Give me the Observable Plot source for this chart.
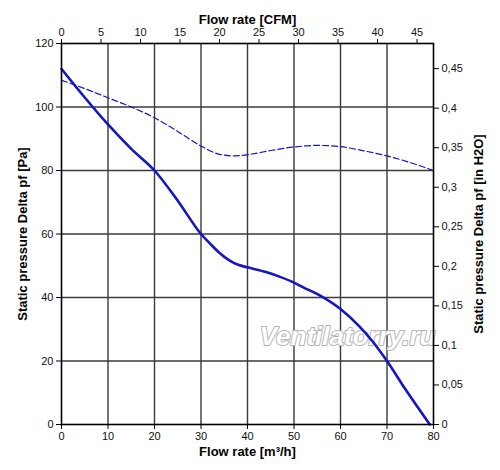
<!DOCTYPE html>
<html>
<head>
<meta charset="utf-8">
<script src="https://cdn.jsdelivr.net/npm/d3@7"></script>
<script src="https://cdn.jsdelivr.net/npm/@observablehq/plot@0.6"></script>
<style>
  html, body { margin: 0; padding: 0; background: #fff; }
  #chart { width: 500px; height: 470px; }
</style>
</head>
<body>
<div id="chart"></div>
<script>
// ---- data ----
const flowSolid = [0, 5, 10, 15, 20, 25, 30, 32, 34, 36, 38, 40, 44, 47, 50, 52, 56, 60, 64, 67, 70, 74, 79.2];
const pressureSolid = [112, 103, 94.5, 86.8, 80, 70.5, 60, 56.9, 54, 51.8, 50.3, 49.5, 48, 46.5, 44.7, 43.2, 40.3, 36.4, 31, 26, 20, 11, 0];

const flowDashed = [0, 5, 10, 15, 20, 25, 30, 34, 37, 41, 45, 50, 55, 60, 65, 70, 75, 80];
const pressureDashed = [108.4, 105.8, 102.9, 100, 96.6, 92.3, 87.7, 85.1, 84.6, 85.2, 86.3, 87.4, 87.9, 87.5, 86.2, 84.6, 82.5, 80];

const xTicks = [0, 10, 20, 30, 40, 50, 60, 70, 80];
const yTicks = [0, 20, 40, 60, 80, 100, 120];
const cfmTicks = [0, 5, 10, 15, 20, 25, 30, 35, 40, 45];
const inH2OTicks = [0, 0.05, 0.1, 0.15, 0.2, 0.25, 0.3, 0.35, 0.4, 0.45];

const M3H_PER_CFM = 1.699;
const PA_PER_INH2O = 249.09;

const solid = flowSolid.map((x, i) => ({x, y: pressureSolid[i]}));
const dashed = flowDashed.map((x, i) => ({x, y: pressureDashed[i]}));

const blue = "#1414c8";
const gridColor = "#3a3a3a";

const fmtComma = v => String(+v.toFixed(2)).replace(".", ",");

const chart = Plot.plot({
  width: 500,
  height: 470,
  marginLeft: 61,
  marginRight: 67,
  marginTop: 43,
  marginBottom: 46,
  style: {fontFamily: "'Liberation Sans', Arial, sans-serif", fontSize: "11px", color: "#111", background: "#fff"},
  x: {domain: [0, 80], axis: null},
  y: {domain: [0, 120], axis: null},
  marks: [
    Plot.ruleX(xTicks.slice(1, -1), {stroke: gridColor, strokeWidth: 1.4}),
    Plot.ruleY(yTicks.slice(1, -1), {stroke: gridColor, strokeWidth: 1.4}),
    Plot.text(["Ventilatorry.ru"], {
      frameAnchor: "bottom-right", textAnchor: "end", lineAnchor: "bottom",
      dx: 2, dy: -80, fontSize: 26, fontWeight: "bold", fontStyle: "italic",
      fontFamily: "'Liberation Sans', Arial, sans-serif",
      fill: "white", stroke: "#b4b4b4", strokeWidth: 2
    }),
    Plot.line(dashed, {x: "x", y: "y", stroke: blue, strokeWidth: 1.2, strokeDasharray: "6,3", curve: "monotone-x"}),
    Plot.line(solid, {x: "x", y: "y", stroke: blue, strokeWidth: 2.6, curve: "monotone-x"}),
    Plot.frame({stroke: "#000", strokeWidth: 1.6}),
    Plot.axisX({anchor: "bottom", ticks: xTicks, tickSize: 5, tickPadding: 3, label: null, stroke: "#000"}),
    Plot.axisY({anchor: "left", ticks: yTicks, tickSize: 5, tickPadding: 3, label: null, stroke: "#000"}),
    Plot.axisX({
      anchor: "top", ticks: cfmTicks.map(c => c * M3H_PER_CFM), tickSize: 5, tickPadding: 3,
      tickFormat: d => String(Math.round(d / M3H_PER_CFM)), label: null, stroke: "#000"
    }),
    Plot.axisY({
      anchor: "right", ticks: inH2OTicks.map(v => v * PA_PER_INH2O), tickSize: 5, tickPadding: 3,
      tickFormat: d => fmtComma(d / PA_PER_INH2O), label: null, stroke: "#000"
    }),
    Plot.text(["Flow rate [m³/h]"], {frameAnchor: "bottom", dy: 31, fontSize: 13, fontWeight: "bold", fill: "#000"}),
    Plot.text(["Flow rate [CFM]"], {frameAnchor: "top", dy: -29, fontSize: 13, fontWeight: "bold", fill: "#000"}),
    Plot.text(["Static pressure Delta pf [Pa]"], {frameAnchor: "left", textAnchor: "middle", dx: -39, rotate: -90, fontSize: 13, fontWeight: "bold", fill: "#000"}),
    Plot.text(["Static pressure Delta pf [in H2O]"], {frameAnchor: "right", textAnchor: "middle", dx: 45, rotate: -90, fontSize: 13, fontWeight: "bold", fill: "#000"})
  ]
});
document.getElementById("chart").appendChild(chart);
</script>
</body>
</html>
